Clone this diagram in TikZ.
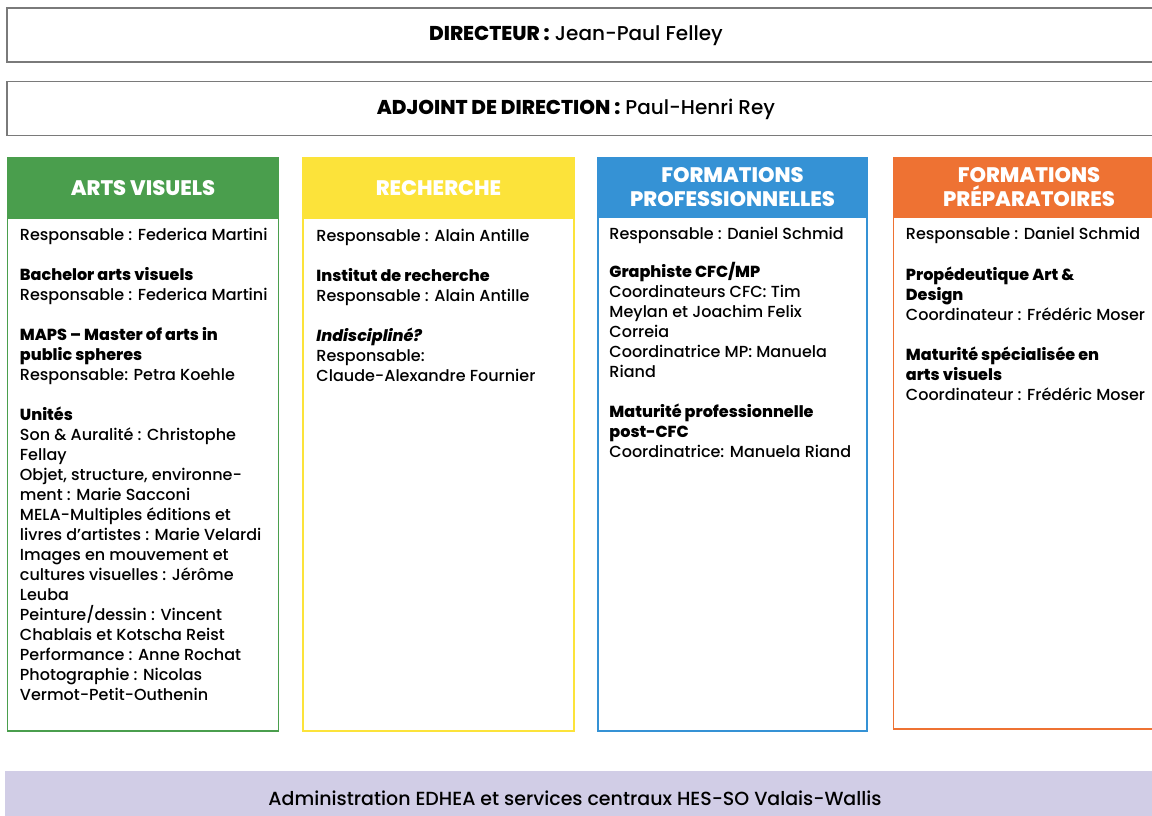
\documentclass[tikz,border=0pt]{standalone}
\usepackage{fontspec}
\setmainfont{Poppins}[UprightFont=* Medium, BoldFont=* ExtraBold, ItalicFont=* Medium Italic, BoldItalicFont=* ExtraBold Italic]
\usetikzlibrary{positioning}
\definecolor{framegray}{HTML}{7A7A7A}
\definecolor{colAV}{HTML}{4A9E4D}
\definecolor{colRE}{HTML}{FCE33A}
\definecolor{colFP}{HTML}{3592D5}
\definecolor{colPR}{HTML}{EE7233}
\definecolor{colAdmin}{HTML}{D1CDE6}

\begin{document}
\begin{tikzpicture}[x=1pt, y=-1pt, font=\fontsize{16}{20}\selectfont,
	    topbox/.style={draw=framegray, line width=1.5pt, minimum width=1160pt, minimum height=54pt, inner sep=0pt},
	    toptext/.style={font=\fontsize{20}{24}\selectfont},
	    colframe/.style={draw=#1, line width=1.5pt, minimum width=271pt, minimum height=573pt, inner sep=0pt},
	    colhead/.style={fill=#1, draw=#1, line width=1.5pt, minimum width=271pt, minimum height=60pt, inner sep=0pt,
	        text=white, align=center, font=\fontsize{21}{24}\selectfont\bfseries},
	    coltext/.style={anchor=north west, inner sep=0pt, align=left}]
	\useasboundingbox (0,0) rectangle (1152,816);
	\clip (0,0) rectangle (1152,816);

	% direction
	\node[topbox] (dirbox) at (587,35) {};
	\node[toptext] (dirtext) at (576,36) {\textbf{DIRECTEUR :} Jean-Paul Felley};
	\node[topbox] (adjbox) at (587,108.5) {};
	\node[toptext] (adjtext) at (576,109) {\textbf{ADJOINT DE DIRECTION :} Paul-Henri Rey};

	% columns
	\node[colframe=colAV] (avframe) at (143,444.5) {};
	\node[colhead=colAV, below=0pt of avframe.north] (avhead) {ARTS VISUELS};
	\node[colframe=colRE] (reframe) at (438.5,444.5) {};
	\node[colhead=colRE, below=0pt of reframe.north] (rehead) {RECHERCHE};
	\node[colframe=colFP, minimum width=269pt] (fpframe) at (732.5,444.5) {};
	\node[colhead=colFP, minimum width=269pt, minimum height=59pt, below=0pt of fpframe.north] (fphead) {FORMATIONS\\PROFESSIONNELLES};
	\node[colframe=colPR, minimum height=571pt] (prframe) at (1029,443.5) {};
	\node[colhead=colPR, minimum height=59pt, below=0pt of prframe.north] (prhead) {FORMATIONS\\PRÉPARATOIRES};

	\node[coltext] (avtext) at ([xshift=13pt, yshift=-9pt]avhead.south west) {
		Responsable : Federica Martini\\[20pt]
		\textbf{Bachelor arts visuels}\\
		Responsable : Federica Martini\\[20pt]
		\textbf{MAPS – Master of arts in}\\
		\textbf{public spheres}\\
		Responsable: Petra Koehle\\[20pt]
		\textbf{Unités}\\
		Son \& Auralité : Christophe\\
		Fellay\\
		Objet, structure, environne-\\
		ment : Marie Sacconi\\
		MELA-Multiples éditions et\\
		livres d\symbol{39}artistes : Marie Velardi\\
		Images en mouvement et\\
		cultures visuelles : Jérôme\\
		Leuba\\
		Peinture/dessin : Vincent\\
		Chablais et Kotscha Reist\\
		Performance : Anne Rochat\\
		Photographie : Nicolas\\
		Vermot-Petit-Outhenin};
	\node[coltext] (retext) at ([xshift=14pt, yshift=-10pt]rehead.south west) {
		Responsable : Alain Antille\\[20pt]
		\textbf{Institut de recherche}\\
		Responsable : Alain Antille\\[20pt]
		\textbf{\textit{Indiscipliné?}}\\
		Responsable:\\
		Claude-Alexandre Fournier};
	\node[coltext] (fptext) at ([xshift=12pt, yshift=-9pt]fphead.south west) {
		Responsable : Daniel Schmid\\[18pt]
		\textbf{Graphiste CFC/MP}\\
		Coordinateurs CFC: Tim\\
		Meylan et Joachim Felix\\
		Correia\\
		Coordinatrice MP: Manuela\\
		Riand\\[20pt]
		\textbf{Maturité professionnelle}\\
		\textbf{post-CFC}\\
		Coordinatrice: Manuela Riand};
	\node[coltext] (prtext) at ([xshift=13pt, yshift=-9pt]prhead.south west) {
		Responsable : Daniel Schmid\\[21pt]
		\textbf{Propédeutique Art \&}\\
		\textbf{Design}\\
		Coordinateur : Frédéric Moser\\[20pt]
		\textbf{Maturité spécialisée en}\\
		\textbf{arts visuels}\\
		Coordinateur : Frédéric Moser};

	% administration
	\node[fill=colAdmin, minimum width=1160pt, minimum height=50pt, inner sep=0pt] (adminbox) at (585,796) {};
	\node[font=\fontsize{19}{22}\selectfont] (admintext) at (575,798) {Administration EDHEA et services centraux HES-SO Valais-Wallis};
\end{tikzpicture}
\end{document}
